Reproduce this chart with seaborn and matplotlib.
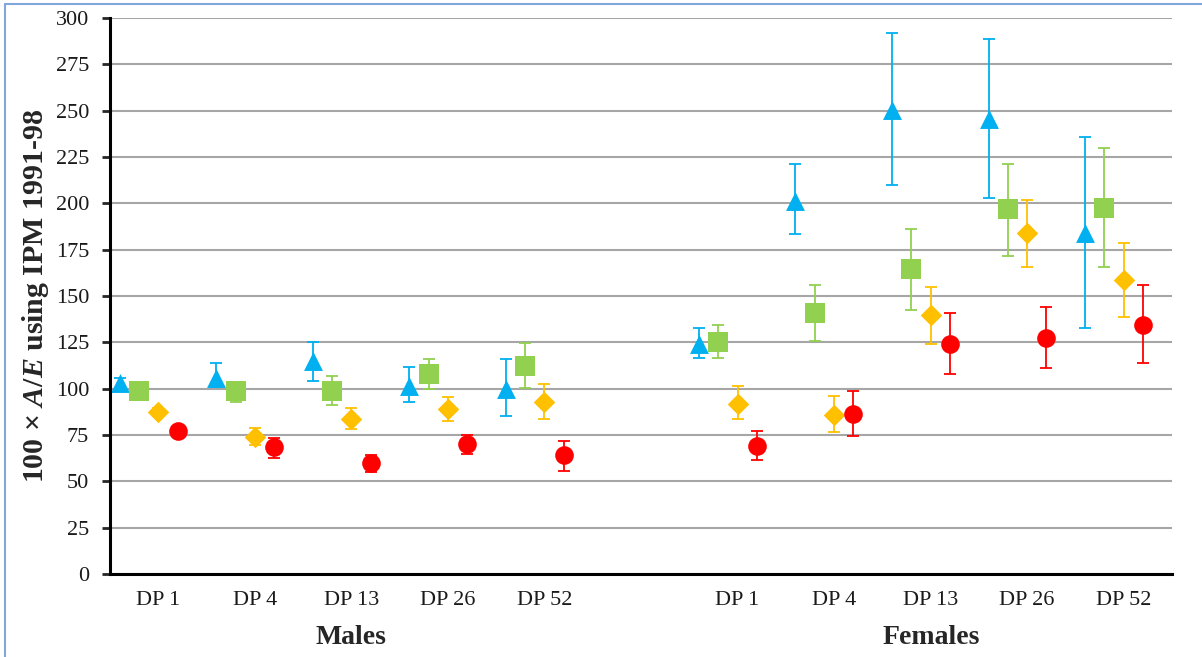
import numpy as np
import pandas as pd
import matplotlib
matplotlib.use("Agg")
import matplotlib.pyplot as plt
import seaborn as sns
from matplotlib.lines import Line2D

nan = np.nan
groups = ["DP 1", "DP 4", "DP 13", "DP 26", "DP 52", "",
          "DP 1", "DP 4", "DP 13", "DP 26", "DP 52"]
sex_labels = ["Males", "Females"]
series_names = ["Series 1", "Series 2", "Series 3", "Series 4"]

tri = [103, 105.5, 114.8, 101.6, 100, nan, 124.3, 201.3, 250.6, 245.4, 183.8]
tri_lo = [100, 101, 104, 92.8, 85, nan, 116.4, 183.2, 209.9, 202.9, 132.9]
tri_hi = [106, 113.7, 125.4, 111.8, 116, nan, 132.7, 221, 292, 288.7, 235.7]

sq = [98.7, 99, 98.7, 107.8, 112.5, nan, 125, 140.6, 164.8, 197, 197.6]
sq_lo = [96.5, 93, 91.2, 99.8, 100.5, nan, 116.4, 125.6, 142.2, 171.8, 165.7]
sq_hi = [101, 101, 106.6, 116, 124.7, nan, 134.5, 156, 186.3, 221, 229.6]

dia = [87.4, 73.8, 83.5, 89.2, 92.6, nan, 91.9, 85.8, 139.5, 183.8, 158.7]
dia_lo = [85.5, 69.6, 78, 82.6, 83.5, nan, 83.5, 76.7, 124, 165.7, 138.8]
dia_hi = [89.5, 79, 89.7, 95.5, 102.3, nan, 101.4, 96.2, 155, 201.7, 178.6]

cir = [77.2, 68.4, 59.8, 70.4, 64, nan, 69.3, 86.5, 124, 127.5, 134.5]
cir_lo = [75, 62.8, 55.2, 64.5, 55.7, nan, 61.6, 74.5, 107.8, 111, 113.6]
cir_hi = [79.5, 73.5, 64.3, 75.2, 72, nan, 77.2, 98.7, 140.6, 144, 156]

colors = ["#00B0F0", "#92D050", "#FFC000", "#FF0000"]
markers = ["^", "s", "D", "o"]
sizes = [185, 195, 120, 180]

sns.set_style("white")
plt.rcParams["font.family"] = ["Liberation Serif", "DejaVu Serif"]
plt.rcParams["mathtext.fontset"] = "custom"
plt.rcParams["mathtext.it"] = "Liberation Serif:italic:bold"
plt.rcParams["mathtext.rm"] = "Liberation Serif:bold"
plt.rcParams["mathtext.bf"] = "Liberation Serif:bold"

fig = plt.figure(figsize=(12.02, 6.57), dpi=100)
ax = fig.add_axes([110 / 1202, 83 / 657, 1062 / 1202, 556 / 657])

slots = 5
ng = len(groups)
all_vals = [(tri, tri_lo, tri_hi), (sq, sq_lo, sq_hi), (dia, dia_lo, dia_hi), (cir, cir_lo, cir_hi)]
for s, (v, lo, hi) in enumerate(all_vals):
    v = np.array(v, float); lo = np.array(lo, float); hi = np.array(hi, float)
    x = np.arange(ng) * slots + s + 0.5
    ax.errorbar(x, v, yerr=[v - lo, hi - v], fmt="none", ecolor=colors[s],
                elinewidth=1.3, capsize=4, capthick=1.3, zorder=3)
    df = pd.DataFrame({"x": x, "y": v, "series": series_names[s]}).dropna()
    sns.scatterplot(data=df, x="x", y="y", marker=markers[s], color=colors[s],
                    s=sizes[s], linewidth=0, ax=ax, zorder=4, legend=False)

ax.set_xlim(0, ng * slots)
ax.set_ylim(0, 300)
ax.set_yticks(np.arange(0, 301, 25))
ax.set_xticks(np.arange(0, ng * slots + 1, slots))
ax.set_xticklabels([])
ax.set_xticks(np.arange(ng) * slots + slots / 2, minor=True)
ax.set_xticklabels(groups, minor=True)
ax.tick_params(axis="x", which="major", direction="out", length=6, width=2, color="black")
ax.tick_params(axis="x", which="minor", length=0, pad=12, labelsize=16, labelcolor="#1a1a1a")
ax.tick_params(axis="y", direction="out", length=6, width=2, pad=9, labelsize=16,
               labelcolor="#1a1a1a", left=True)
ax.set_xlabel("")
ax.set_ylabel("")
ax.grid(axis="y", color="#A6A6A6", linewidth=1.5)
ax.grid(axis="x", visible=False)
ax.set_axisbelow(True)
for sp in ["top", "right"]:
    ax.spines[sp].set_visible(False)
for sp in ["left", "bottom"]:
    ax.spines[sp].set_color("black")
    ax.spines[sp].set_linewidth(2.2)
    ax.spines[sp].set_zorder(5)

fig.text(36 / 1202, 1 - 296 / 657, "100 × $A/E$ using IPM 1991-98", rotation=90,
         ha="center", va="center", fontsize=21.5, fontweight="bold")
fig.text(351 / 1202, 20 / 657, sex_labels[0], ha="center", va="center",
         fontsize=20, fontweight="bold")
fig.text(931 / 1202, 20 / 657, sex_labels[1], ha="center", va="center",
         fontsize=20, fontweight="bold")

fig.add_artist(Line2D([5 / 1202, 1], [1 - 4 / 657, 1 - 4 / 657], transform=fig.transFigure,
                      color="#7FA7DB", linewidth=1.5))
fig.add_artist(Line2D([5 / 1202, 5 / 1202], [0, 1 - 4 / 657], transform=fig.transFigure,
                      color="#7FA7DB", linewidth=1.5))

fig.savefig("out.png", dpi=100)
